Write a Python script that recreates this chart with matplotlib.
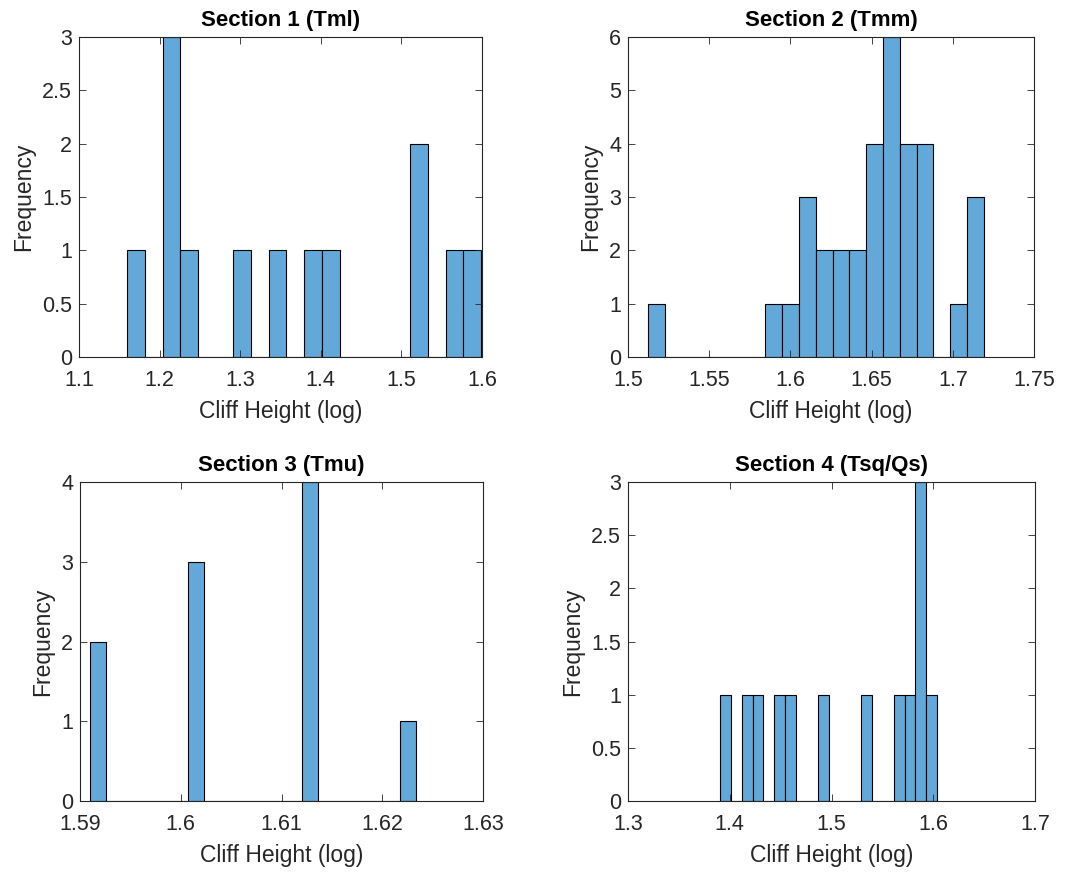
import numpy as np
import matplotlib
matplotlib.use('Agg')
import matplotlib.pyplot as plt

plt.rcParams['font.family'] = ['Liberation Sans', 'DejaVu Sans']

# histogram data: first/last bin edge and the 20 counts
titles = ['Section 1 (Tml)', 'Section 2 (Tmm)', 'Section 3 (Tmu)', 'Section 4 (Tsq/Qs)']

s1_range = (1.1599, 1.5988)
s1_counts = [1, 0, 3, 1, 0, 0, 1, 0, 1, 0, 1, 1, 0, 0, 0, 0, 2, 0, 1, 1]
s2_range = (1.5123, 1.7190)
s2_counts = [1, 0, 0, 0, 0, 0, 0, 1, 1, 3, 2, 2, 2, 4, 6, 4, 4, 0, 1, 3]
s3_range = (1.59099, 1.62336)
s3_counts = [2, 0, 0, 0, 0, 0, 3, 0, 0, 0, 0, 0, 0, 4, 0, 0, 0, 0, 0, 1]
s4_range = (1.3903, 1.6038)
s4_counts = [1, 0, 1, 1, 0, 1, 1, 0, 0, 1, 0, 0, 0, 1, 0, 0, 1, 1, 3, 1]

xlims = [(1.1, 1.6), (1.5, 1.75), (1.59, 1.63), (1.3, 1.7)]
xticks = [[1.1, 1.2, 1.3, 1.4, 1.5, 1.6],
          [1.5, 1.55, 1.6, 1.65, 1.7, 1.75],
          [1.59, 1.6, 1.61, 1.62, 1.63],
          [1.3, 1.4, 1.5, 1.6, 1.7]]
xticklabels = [['1.1', '1.2', '1.3', '1.4', '1.5', '1.6'],
               ['1.5', '1.55', '1.6', '1.65', '1.7', '1.75'],
               ['1.59', '1.6', '1.61', '1.62', '1.63'],
               ['1.3', '1.4', '1.5', '1.6', '1.7']]
ylims = [3, 6, 4, 3]
ysteps = [0.5, 1, 1, 0.5]

ranges = [s1_range, s2_range, s3_range, s4_range]
counts = [s1_counts, s2_counts, s3_counts, s4_counts]

# axes boxes in figure fractions (left, bottom, width, height)
positions = [(0.0733, 0.5915, 0.3738, 0.3661),
             (0.5826, 0.5915, 0.3766, 0.3661),
             (0.0742, 0.0835, 0.3740, 0.3650),
             (0.5826, 0.0835, 0.3776, 0.3650)]

face = '#62a8d8'
dark = '#262626'

fig = plt.figure(figsize=(10.78, 8.74), dpi=100)

for i in range(4):
    ax = fig.add_axes(positions[i])
    c = np.array(counts[i], dtype=float)
    edges = np.linspace(ranges[i][0], ranges[i][1], len(c) + 1)
    centers = (edges[:-1] + edges[1:]) / 2
    ax.hist(centers, bins=edges, weights=c, color=face, edgecolor='black', linewidth=0.8)
    ax.set_xlim(*xlims[i])
    ax.set_ylim(0, ylims[i])
    ax.set_xticks(xticks[i])
    ax.set_xticklabels(xticklabels[i])
    yt = np.arange(0, ylims[i] + 1e-9, ysteps[i])
    ax.set_yticks(yt)
    ax.set_yticklabels(['%g' % v for v in yt])
    ax.tick_params(direction='in', top=True, right=True, length=5, width=0.6,
                   labelsize=15.5, colors=dark)
    ax.tick_params(axis='x', pad=9)
    ax.tick_params(axis='y', pad=5)
    for sp in ax.spines.values():
        sp.set_color(dark)
        sp.set_linewidth(0.8)
    ax.set_title(titles[i], fontsize=16, fontweight='bold', pad=8)
    ax.set_xlabel('Cliff Height (log)', fontsize=16.5, color=dark, labelpad=7)
    ax.set_ylabel('Frequency', fontsize=16.5, color=dark, labelpad=5)

plt.savefig('out.png', dpi=100)
